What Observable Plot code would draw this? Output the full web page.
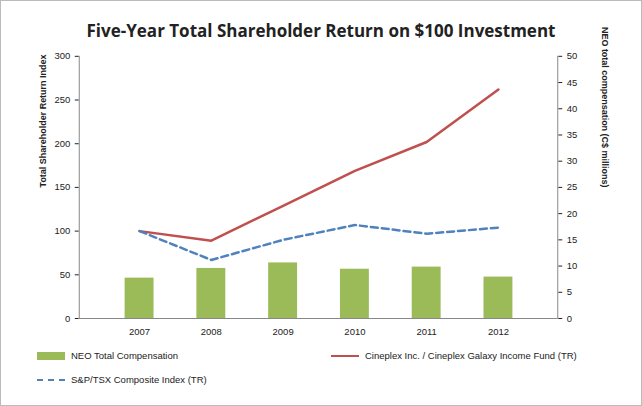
<!DOCTYPE html>
<html><head><meta charset="utf-8">
<script src="https://cdn.jsdelivr.net/npm/d3@7"></script>
<script src="https://cdn.jsdelivr.net/npm/@observablehq/plot@0.6"></script>
<style>
body{margin:0;font-family:"Liberation Sans",Arial,sans-serif;}
#wrap{position:relative;width:640px;height:404px;border:1px solid #bbb;background:#fff;}
#title{position:absolute;top:18px;left:0;width:640px;text-align:center;font-size:17px;font-weight:bold;color:#222;font-family:"Open Sans",sans-serif;}
.leg{position:absolute;font-size:9.5px;color:#222;display:flex;align-items:center;}
.sw{display:inline-block;margin-right:6px;}
svg{position:absolute;top:0;left:0;}
</style></head><body>
<div id="wrap"><div id="chart"></div>
<div id="title">Five-Year Total Shareholder Return on $100 Investment</div>
<div class="leg" style="left:36px;top:349px"><span class="sw" style="width:28px;height:8px;background:#9bbb59"></span>NEO Total Compensation</div>
<div class="leg" style="left:330px;top:349px"><span class="sw" style="width:28px;height:0;border-top:2.5px solid #c0504d"></span>Cineplex Inc. / Cineplex Galaxy Income Fund (TR)</div>
<div class="leg" style="left:36px;top:373px"><span class="sw" style="width:28px;height:0;border-top:2.5px dashed #4f81bd"></span>S&amp;P/TSX Composite Index (TR)</div>
</div>
<script>
const years=["2007","2008","2009","2010","2011","2012"];
const neoComp=[7.7,9.55,10.6,9.4,9.8,7.9];
const cineplex=[100,89,129,169,202,262];
const sptsx=[100,67,90,107,97,104];
const rows=years.map((y,i)=>({year:y,comp:neoComp[i],cin:cineplex[i],sp:sptsx[i]}));
const f=6;
const p=Plot.plot({width:642,height:406,marginLeft:78,marginRight:84,marginTop:55,marginBottom:88,
style:{fontSize:"9.5px",fontFamily:"Liberation Sans,Arial,sans-serif",color:"#222"},
x:{domain:years,padding:0.6,label:null},
y:{domain:[0,300],label:null},
marks:[
Plot.axisY({ticks:d3.range(0,301,50),tickSize:4,label:null}),
Plot.axisY({anchor:"right",ticks:d3.range(0,301,30),tickFormat:d=>d/f,tickSize:4,label:null}),
Plot.axisX({tickSize:0,tickPadding:10,label:null}),
Plot.text(["Total Shareholder Return Index"],{frameAnchor:"left",dx:-36,rotate:-90,fontWeight:"bold",fontSize:9}),
Plot.text(["NEO total compensation (C$ millions)"],{frameAnchor:"right",dx:47,rotate:90,fontWeight:"bold",fontSize:9}),
Plot.barY(rows,{x:"year",y:d=>d.comp*f,fill:"#9bbb59"}),
Plot.ruleY([0],{stroke:"#888"}),
Plot.line(rows,{x:"year",y:"cin",stroke:"#c0504d",strokeWidth:2.5}),
Plot.line(rows,{x:"year",y:"sp",stroke:"#4f81bd",strokeWidth:2.5,strokeDasharray:"7,4"}),
Plot.frame({anchor:"left",stroke:"#888"}),
Plot.frame({anchor:"right",stroke:"#888"})
]});
document.getElementById("chart").appendChild(p);
</script></body></html>
